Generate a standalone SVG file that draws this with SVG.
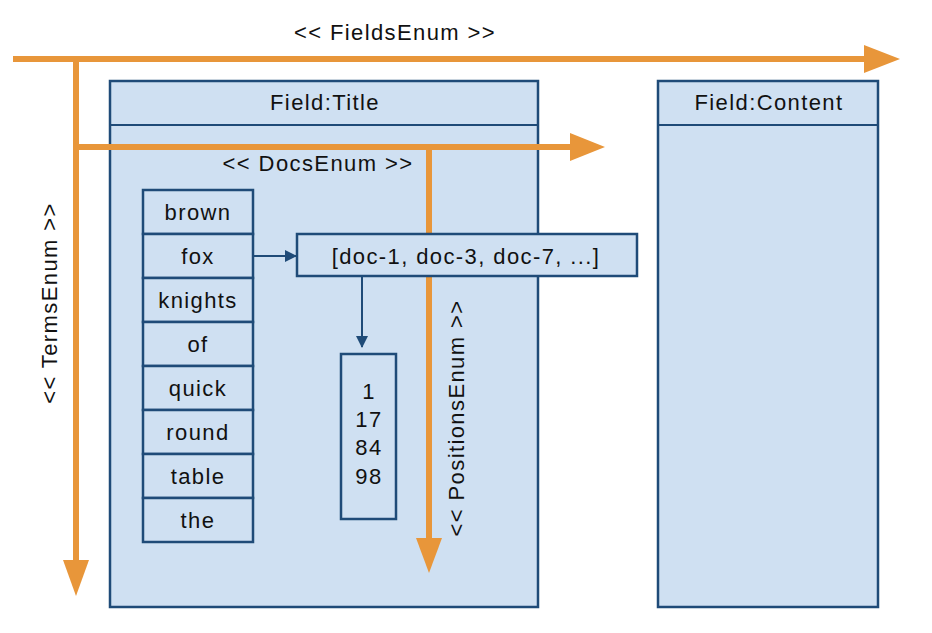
<svg xmlns="http://www.w3.org/2000/svg" width="932" height="633" viewBox="0 0 932 633">
<defs>
<style>
.box{fill:#cfe0f2;stroke:#1f4b78;stroke-width:2.5}
.t{font-family:"Liberation Sans",Arial,sans-serif;font-size:22px;letter-spacing:1.4px;fill:#111;text-anchor:middle}
.or{stroke:#e8963a;stroke-width:6;fill:none}
.ah{fill:#e8963a}
.bl{stroke:#1f4b78;stroke-width:2;fill:none}
</style>
<marker id="blue" markerWidth="12" markerHeight="12" refX="11" refY="6" orient="auto" markerUnits="userSpaceOnUse" viewBox="0 0 12 12"><path d="M0,0 L12,6 L0,12 Z" fill="#1f4b78"/></marker>
</defs>
<rect width="932" height="633" fill="#ffffff"/>
<g id="field-title">
<rect class="box" x="110" y="81" width="428" height="526"/>
<line class="bl" x1="110" y1="125" x2="538" y2="125" stroke-width="2.5"/>
<text class="t" x="325" y="110">Field:Title</text>
</g>
<g id="field-content">
<rect class="box" x="658" y="81" width="220" height="526"/>
<line class="bl" x1="658" y1="125" x2="878" y2="125" stroke-width="2.5"/>
<text class="t" x="769" y="110">Field:Content</text>
</g>
<g id="terms">
<rect class="box" x="143" y="190" width="110" height="44"/><text class="t" x="198" y="220">brown</text>
<rect class="box" x="143" y="234" width="110" height="44"/><text class="t" x="198" y="264">fox</text>
<rect class="box" x="143" y="278" width="110" height="44"/><text class="t" x="198" y="308">knights</text>
<rect class="box" x="143" y="322" width="110" height="44"/><text class="t" x="198" y="352">of</text>
<rect class="box" x="143" y="366" width="110" height="44"/><text class="t" x="198" y="396">quick</text>
<rect class="box" x="143" y="410" width="110" height="44"/><text class="t" x="198" y="440">round</text>
<rect class="box" x="143" y="454" width="110" height="44"/><text class="t" x="198" y="484">table</text>
<rect class="box" x="143" y="498" width="110" height="44"/><text class="t" x="198" y="528">the</text>
</g>
<g id="connectors">
<line class="or" x1="13" y1="59" x2="866" y2="59"/>
<polygon class="ah" points="864,45 900,59 864,73"/>
<line class="or" x1="76" y1="59" x2="76" y2="562"/>
<polygon class="ah" points="63,560 76,596 89,560"/>
<line class="or" x1="76" y1="147" x2="572" y2="147"/>
<polygon class="ah" points="570,133 605,147 570,161"/>
<line class="or" x1="429" y1="147" x2="429" y2="540"/>
<polygon class="ah" points="416,538 429,573 442,538"/>
<line class="bl" x1="253" y1="256" x2="296" y2="256" marker-end="url(#blue)"/>
<line class="bl" x1="362" y1="277" x2="362" y2="347" marker-end="url(#blue)"/>
</g>
<g id="doclist">
<rect class="box" x="297" y="234" width="340" height="42" stroke-width="1.5"/>
<text class="t" x="466" y="264">[doc-1, doc-3, doc-7, ...]</text>
</g>
<g id="positions">
<rect class="box" x="341" y="354" width="55" height="165" stroke-width="2"/>
<text class="t" x="369" y="399">1</text>
<text class="t" x="369" y="427">17</text>
<text class="t" x="369" y="455">84</text>
<text class="t" x="369" y="484">98</text>
</g>
<g id="labels">
<text class="t" x="395" y="40">&lt;&lt; FieldsEnum &gt;&gt;</text>
<text class="t" x="318" y="171">&lt;&lt; DocsEnum &gt;&gt;</text>
<text class="t" transform="translate(57,303) rotate(-90)">&lt;&lt; TermsEnum &gt;&gt;</text>
<text class="t" transform="translate(464,418) rotate(-90)">&lt;&lt; PositionsEnum &gt;&gt;</text>
</g>
</svg>
